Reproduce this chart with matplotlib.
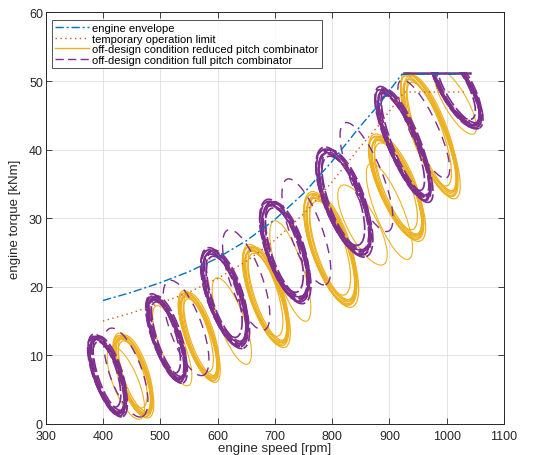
import matplotlib
matplotlib.use('Agg')
import matplotlib.pyplot as plt
from matplotlib.patches import Ellipse, Rectangle
from matplotlib.transforms import Affine2D

plt.rcParams['font.family'] = ['Liberation Sans', 'DejaVu Sans']

# engine envelope and temporary operation limit
env_speed = [400, 450, 500, 550, 600, 650, 700, 750, 800, 850, 880, 900, 922, 1030]
env_torque = [18.0, 19.2, 20.6, 22.2, 24.2, 26.7, 29.8, 33.6, 38.3, 43.5, 46.4, 48.6, 51.0, 51.0]
lim_speed = [400, 450, 500, 550, 600, 650, 700, 750, 800, 850, 880, 900, 926, 1030]
lim_torque = [15.0, 16.2, 17.6, 19.2, 21.2, 23.7, 26.8, 30.6, 35.3, 40.5, 43.4, 45.6, 48.4, 48.4]

# settled orbits: centre speed [rpm], centre torque [kNm],
# long / short half axis [rpm equivalent], tilt [deg]
red_speed = [453, 568, 685, 798, 913, 971]
red_torque = [7.1, 12.8, 18.7, 25.5, 34.5, 42.1]
red_long = [72, 78, 88, 99, 94, 110]
red_short = [23, 22, 26, 31, 29, 28]
red_tilt = [19, 19, 19, 19, 23, 21]

full_speed = [408, 511, 613, 718, 821, 925, 1017]
full_torque = [7.1, 12.5, 18.4, 25.2, 32.4, 40.8, 48.8]
full_long = [70, 76, 86, 89, 95, 102, 72]
full_short = [22, 22, 28, 30, 32, 25, 25]
full_tilt = [19, 19, 19, 19, 21, 23, 30]

# transient orbits between the settled ones
red_tr_speed = [440, 521, 625, 727, 853, 1015, 900]
red_tr_torque = [6.0, 11.4, 15.0, 22.3, 29.0, 47.0, 31.0]
red_tr_long = [68, 75, 80, 92, 78, 65, 90]
red_tr_short = [22, 21, 22, 23, 26, 20, 24]
red_tr_tilt = [22, 22, 20, 18, 28, 30, 22]

full_tr_speed = [440, 545, 650, 755, 860, 960]
full_tr_torque = [7.5, 14.0, 21.0, 28.0, 36.0, 43.0]
full_tr_long = [82, 88, 93, 98, 102, 94]
full_tr_short = [28, 28, 28, 28, 28, 24]
full_tr_tilt = [20, 20, 20, 20, 22, 25]

# spread of the repeated loops around each settled orbit
loop_scale = [0.90, 0.93, 0.95, 0.97, 0.99, 1.0, 1.02, 1.04, 1.06]
loop_dspeed = [-4, 3, -1, 4, 0, -3, 2, -2, 1]
loop_dtorque = [0.4, -0.3, 0.0, 0.3, -0.4, 0.1, -0.1, 0.2, -0.2]

# torque cap where the orbits run along the envelope
cap_full_speed = [925, 1040]
cap_full_torque = [51.2, 51.2]
cap_red_speed = [935, 985]
cap_red_torque = [51.0, 51.0]

c_env = '#0072BD'
c_lim = '#D95319'
c_red = '#EDB120'
c_full = '#7E2F8E'

fig = plt.figure(figsize=(5.4, 4.56), dpi=100)
ax = fig.add_axes([0.0846, 0.068, 0.8487, 0.9026])
ax.set_xlim(300, 1100)
ax.set_ylim(0, 60)

# rpm per kNm so the ellipses can be laid out in screen-like proportions
bb = ax.get_position()
ratio = (800 / (bb.width * 540)) / (60 / (bb.height * 456))
tr = Affine2D().scale(1, 1 / ratio) + ax.transData
clip = Rectangle((300, 0), 800, 51.3, transform=ax.transData)


def loops(cx, cy, a, b, tilt, color, lw, dashed, k0):
    for i, (s, dx, dy) in enumerate(zip(loop_scale, loop_dspeed, loop_dtorque)):
        ls = (((i + k0) * 2.3) % 9, (8, 2)) if dashed else '-'
        e = Ellipse(((cx + dx), (cy + dy) * ratio), 2 * b * s, 2 * a * s,
                    angle=tilt + (i % 3 - 1), transform=tr, fill=False, ec=color,
                    lw=lw, ls=ls, zorder=2)
        ax.add_patch(e)
        e.set_clip_path(clip)


def single(cx, cy, a, b, tilt, color, lw, ls):
    e = Ellipse((cx, cy * ratio), 2 * b, 2 * a, angle=tilt, transform=tr,
                fill=False, ec=color, lw=lw, ls=ls, zorder=2)
    ax.add_patch(e)
    e.set_clip_path(clip)


for k in range(len(red_speed)):
    loops(red_speed[k], red_torque[k], red_long[k], red_short[k], red_tilt[k],
          c_red, 0.9, False, k)
for k in range(len(red_tr_speed)):
    single(red_tr_speed[k], red_tr_torque[k], red_tr_long[k], red_tr_short[k],
           red_tr_tilt[k], c_red, 0.8, '-')
for k in range(len(full_speed)):
    loops(full_speed[k], full_torque[k], full_long[k], full_short[k], full_tilt[k],
          c_full, 1.25, True, k)
for k in range(len(full_tr_speed)):
    single(full_tr_speed[k], full_tr_torque[k], full_tr_long[k], full_tr_short[k],
           full_tr_tilt[k], c_full, 1.0, (0, (7, 5)))

ax.plot(cap_red_speed, cap_red_torque, color=c_red, lw=1.2, zorder=2)
ax.plot(cap_full_speed, cap_full_torque, color=c_full, lw=1.8, zorder=2)

ax.plot(env_speed, env_torque, color=c_env, lw=1.0, ls=(0, (6, 2, 1.5, 2)), zorder=3,
        label='engine envelope')
ax.plot(lim_speed, lim_torque, color=c_lim, lw=1.0, ls=(0, (1, 2.5)), zorder=3,
        label='temporary operation limit')
ax.plot([], [], color=c_red, lw=1.0, label='off-design condition reduced pitch combinator')
ax.plot([], [], color=c_full, lw=1.0, ls=(0, (6, 3)),
        label='off-design condition full pitch combinator')

ax.set_xticks(range(300, 1101, 100))
ax.set_yticks(range(0, 61, 10))
ax.grid(True, color='#dedede', lw=0.6)
ax.set_axisbelow(True)
ax.tick_params(direction='in', top=True, right=True, length=4, width=0.6,
               labelsize=9, colors='#262626', pad=2)
ax.tick_params(axis='x', pad=4.5)
for sp in ax.spines.values():
    sp.set_linewidth(0.7)
    sp.set_color('#262626')

ax.set_xlabel('engine speed [rpm]', fontsize=9.5, color='#262626', labelpad=0)
ax.set_ylabel('engine torque [kNm]', fontsize=9.5, color='#262626', labelpad=6)

leg = ax.legend(loc='upper left', bbox_to_anchor=(0.014, 0.982), fontsize=8.0,
                frameon=True, fancybox=False, handlelength=3.0, handletextpad=0.3,
                labelspacing=0.05, borderpad=0.3, borderaxespad=0)
leg.get_frame().set_edgecolor('#262626')
leg.get_frame().set_linewidth(0.7)

fig.savefig('out.png', dpi=100)
